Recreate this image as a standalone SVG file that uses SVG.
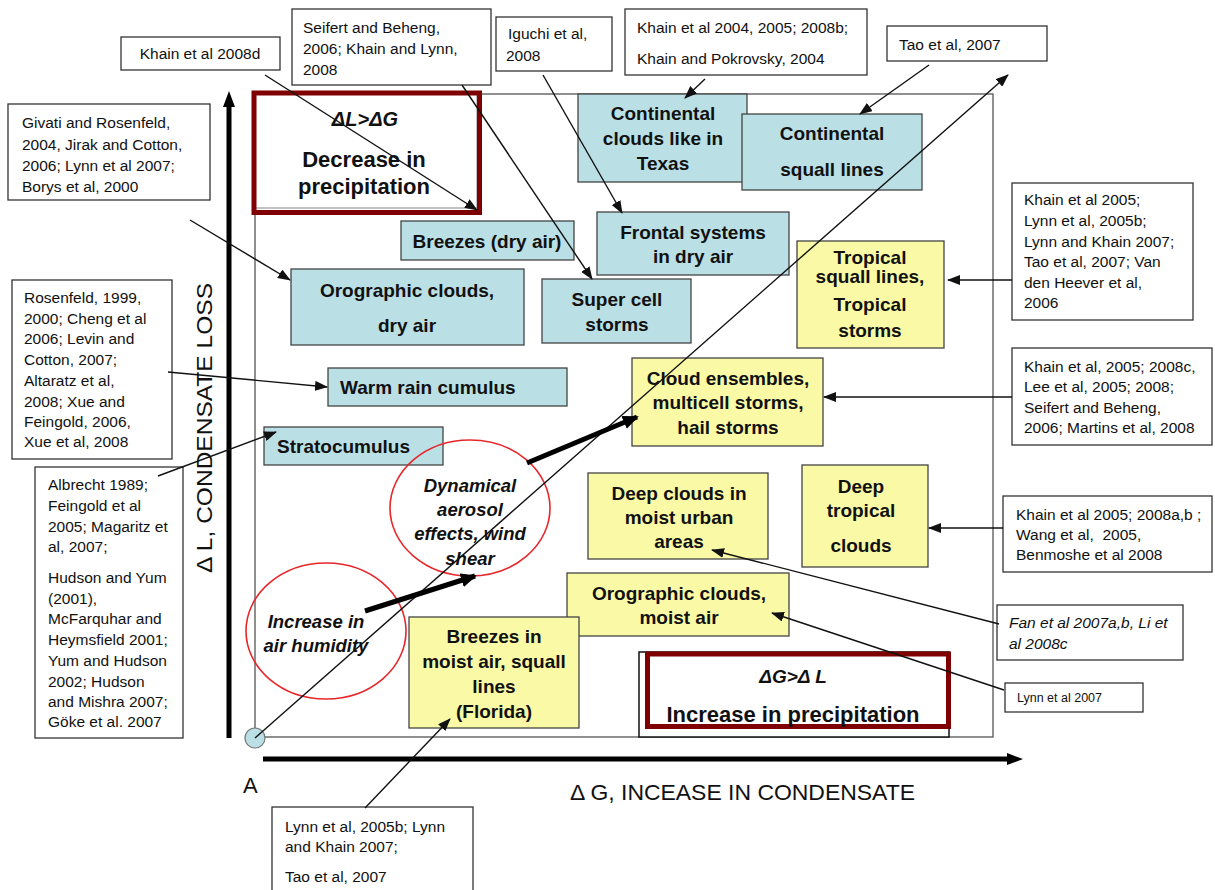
<svg xmlns="http://www.w3.org/2000/svg" width="1215" height="890" viewBox="0 0 1215 890">
<defs>
<style>
.ref rect{fill:#fff;stroke:#333;stroke-width:1.3}
.ref text{font-family:"Liberation Sans",Arial,sans-serif;font-size:15.5px;fill:#111}
.blue rect{fill:#badfe4;stroke:#444;stroke-width:1.3}
.yel rect{fill:#fafaa6;stroke:#444;stroke-width:1.3}
.nt{font-family:"Liberation Sans",Arial,sans-serif;font-size:19px;font-weight:bold;fill:#111;text-anchor:middle}
.ell ellipse{fill:none;stroke:#e8262a;stroke-width:1.6}
.et{font-family:"Liberation Sans",Arial,sans-serif;font-size:18.5px;font-weight:bold;font-style:italic;fill:#111;text-anchor:middle}
.ax{font-family:"Liberation Sans",Arial,sans-serif;font-size:22px;fill:#111}
.con{stroke:#111;stroke-width:1.4;fill:none;marker-end:url(#ah)}
.thick{stroke:#000;stroke-width:5;fill:none;marker-end:url(#ahb)}
.red{fill:none;stroke:#7f0000;stroke-width:5}
</style>
<marker id="ah" markerUnits="userSpaceOnUse" markerWidth="14" markerHeight="10" refX="12" refY="5" orient="auto"><path d="M0,0 L13,5 L0,10 Z" fill="#111"/></marker>
<marker id="ahb" markerUnits="userSpaceOnUse" markerWidth="16" markerHeight="14" refX="14" refY="7" orient="auto"><path d="M0,0 L16,7 L0,14 Z" fill="#000"/></marker>
</defs>
<rect width="1215" height="890" fill="#fff"/>

<!-- main frame and axes -->
<g id="frame">
<rect x="255" y="94" width="738" height="643" fill="#fff" stroke="#555" stroke-width="1.3"/>
<line x1="229" y1="738" x2="229" y2="106" stroke="#000" stroke-width="5"/>
<path d="M229,91 L223,107 L235,107 Z" fill="#000"/>
<line x1="263" y1="759" x2="1008" y2="759" stroke="#000" stroke-width="5"/>
<path d="M1023,759 L1007,753 L1007,765 Z" fill="#000"/>
<text class="ax" x="243" y="793">A</text>
<text class="ax" x="570" y="800" textLength="345" lengthAdjust="spacingAndGlyphs">Δ G, INCEASE IN CONDENSATE</text>
<text class="ax" transform="translate(212,428) rotate(-90)" text-anchor="middle" textLength="290" lengthAdjust="spacingAndGlyphs">Δ L, CONDENSATE LOSS</text>
</g>

<!-- regime boxes -->
<g id="decrease">
<rect x="254" y="93" width="223" height="115" fill="#fff" stroke="#999" stroke-width="1.2"/>
<rect class="red" x="254" y="93" width="225.5" height="119.5"/>
<text class="et" x="365" y="126" style="font-size:20px">ΔL&gt;ΔG</text>
<text class="nt" x="364" y="167" style="font-size:22px">Decrease in</text>
<text class="nt" x="364" y="194" style="font-size:22px">precipitation</text>
</g>
<g id="increase">
<rect x="639" y="652" width="310" height="85" fill="#fff" stroke="#111" stroke-width="1.5"/>
<rect class="red" x="647.5" y="654" width="301" height="72.5"/>
<text class="et" x="793" y="683" style="font-size:19px">ΔG&gt;Δ L</text>
<text class="nt" x="793" y="722" style="font-size:22px">Increase in precipitation</text>
</g>

<!-- blue nodes -->
<g id="cont-texas" class="blue"><rect x="578" y="94" width="169" height="88"/>
<text class="nt" x="663" y="120">Continental</text><text class="nt" x="663" y="145">clouds like in</text><text class="nt" x="663" y="170">Texas</text></g>
<g id="cont-squall" class="blue"><rect x="742" y="114" width="180" height="76"/>
<text class="nt" x="832" y="140">Continental</text><text class="nt" x="832" y="176">squall lines</text></g>
<g id="breezes-dry" class="blue"><rect x="401" y="221" width="173" height="39"/>
<text class="nt" x="487" y="248">Breezes (dry air)</text></g>
<g id="frontal" class="blue"><rect x="597" y="212" width="192" height="63"/>
<text class="nt" x="693" y="239">Frontal systems</text><text class="nt" x="693" y="263">in dry air</text></g>
<g id="orog-dry" class="blue"><rect x="291" y="269" width="233" height="76"/>
<text class="nt" x="407" y="297">Orographic clouds,</text><text class="nt" x="407" y="332">dry air</text></g>
<g id="supercell" class="blue"><rect x="542" y="279" width="149" height="64"/>
<text class="nt" x="617" y="306">Super cell</text><text class="nt" x="617" y="331">storms</text></g>
<g id="warm-rain" class="blue"><rect x="328" y="368" width="239" height="38"/>
<text class="nt" x="340" y="394" text-anchor="start" style="text-anchor:start">Warm rain cumulus</text></g>
<g id="strato" class="blue"><rect x="264" y="427" width="179" height="38"/>
<text class="nt" x="277" y="453" style="text-anchor:start">Stratocumulus</text></g>

<!-- yellow nodes -->
<g id="trop-squall" class="yel"><rect x="797" y="241" width="147" height="107"/>
<text class="nt" x="870" y="264">Tropical</text><text class="nt" x="870" y="283">squall lines,</text><text class="nt" x="870" y="311">Tropical</text><text class="nt" x="870" y="337">storms</text></g>
<g id="cloud-ens" class="yel"><rect x="632" y="358" width="191" height="88"/>
<text class="nt" x="728" y="385">Cloud ensembles,</text><text class="nt" x="728" y="409">multicell storms,</text><text class="nt" x="728" y="434">hail storms</text></g>
<g id="deep-trop" class="yel"><rect x="802" y="465" width="126" height="102"/>
<text class="nt" x="861" y="493">Deep</text><text class="nt" x="861" y="517">tropical</text><text class="nt" x="861" y="552">clouds</text></g>
<g id="deep-urban" class="yel"><rect x="588" y="473" width="180" height="86"/>
<text class="nt" x="679" y="500">Deep clouds in</text><text class="nt" x="679" y="524">moist urban</text><text class="nt" x="679" y="548">areas</text></g>
<g id="orog-moist" class="yel"><rect x="567" y="573" width="222" height="63"/>
<text class="nt" x="679" y="600">Orographic clouds,</text><text class="nt" x="679" y="624">moist air</text></g>
<g id="breezes-moist" class="yel"><rect x="409" y="617" width="170" height="111"/>
<text class="nt" x="494" y="643">Breezes in</text><text class="nt" x="494" y="668">moist air, squall</text><text class="nt" x="494" y="693">lines</text><text class="nt" x="494" y="718">(Florida)</text></g>

<!-- ellipses -->
<g id="dynamical" class="ell"><ellipse cx="470" cy="508" rx="80" ry="68"/>
<text class="et" x="470" y="492">Dynamical</text><text class="et" x="470" y="516">aerosol</text><text class="et" x="470" y="540">effects, wind</text><text class="et" x="470" y="565">shear</text></g>
<g id="humidity" class="ell"><ellipse cx="326" cy="631" rx="80" ry="68"/>
<text class="et" x="316" y="628">Increase in</text><text class="et" x="316" y="652">air humidity</text></g>
<g id="origin"><circle cx="255" cy="738" r="10" fill="#badfe4" stroke="#777" stroke-width="1.2"/></g>

<!-- reference boxes -->
<g id="ref-khain2008d" class="ref"><rect x="121" y="37" width="159" height="33"/><text x="200" y="59" text-anchor="middle">Khain et al 2008d</text></g>
<g id="ref-seifert" class="ref"><rect x="292" y="9" width="199" height="76"/>
<text x="303" y="33">Seifert and Beheng,</text><text x="303" y="54">2006; Khain and Lynn,</text><text x="303" y="75">2008</text></g>
<g id="ref-iguchi" class="ref"><rect x="496" y="17" width="116" height="54"/>
<text x="508" y="39">Iguchi et al,</text><text x="506" y="61">2008</text></g>
<g id="ref-khain2004" class="ref"><rect x="625" y="9" width="242" height="66"/>
<text x="637" y="33">Khain et al 2004, 2005; 2008b;</text><text x="637" y="64">Khain and Pokrovsky, 2004</text></g>
<g id="ref-tao" class="ref"><rect x="887" y="26" width="160" height="35"/><text x="899" y="50">Tao et al, 2007</text></g>
<g id="ref-givati" class="ref"><rect x="8" y="104" width="202" height="96"/>
<text x="22" y="128">Givati and Rosenfeld,</text><text x="22" y="150">2004, Jirak and Cotton,</text><text x="22" y="171">2006; Lynn et al 2007;</text><text x="22" y="192">Borys et al, 2000</text></g>
<g id="ref-rosenfeld" class="ref"><rect x="12" y="280" width="160" height="179"/>
<text x="24" y="303">Rosenfeld, 1999,</text><text x="24" y="324">2000; Cheng et al</text><text x="24" y="344">2006;  Levin and</text><text x="24" y="365">Cotton, 2007;</text><text x="24" y="386">Altaratz et al,</text><text x="24" y="407">2008; Xue and</text><text x="24" y="427">Feingold, 2006,</text><text x="24" y="447">Xue et al, 2008</text></g>
<g id="ref-albrecht" class="ref"><rect x="35" y="467" width="148" height="271"/>
<text x="48" y="490">Albrecht 1989;</text><text x="48" y="511">Feingold et al</text><text x="48" y="532">2005; Magaritz et</text><text x="48" y="552">al, 2007;</text>
<text x="48" y="583">Hudson and Yum</text><text x="48" y="604">(2001),</text><text x="48" y="624">McFarquhar and</text><text x="48" y="645">Heymsfield 2001;</text><text x="48" y="666">Yum and Hudson</text><text x="48" y="687">2002; Hudson</text><text x="48" y="707">and Mishra 2007;</text><text x="48" y="727">Göke et al. 2007</text></g>
<g id="ref-khain2005a" class="ref"><rect x="1012" y="183" width="181" height="137"/>
<text x="1024" y="205">Khain et al 2005;</text><text x="1024" y="226">Lynn et al, 2005b;</text><text x="1024" y="247">Lynn and Khain 2007;</text><text x="1024" y="267">Tao et al, 2007; Van</text><text x="1024" y="288">den Heever et al,</text><text x="1024" y="308">2006</text></g>
<g id="ref-khain2005b" class="ref"><rect x="1012" y="348" width="200" height="97"/>
<text x="1024" y="372">Khain et al, 2005; 2008c,</text><text x="1024" y="392">Lee et al, 2005; 2008;</text><text x="1024" y="413">Seifert and Beheng,</text><text x="1024" y="433">2006; Martins et al, 2008</text></g>
<g id="ref-khain2005c" class="ref"><rect x="1003" y="496" width="209" height="76"/>
<text x="1016" y="520">Khain et al 2005; 2008a,b ;</text><text x="1016" y="540" xml:space="preserve">Wang et al,  2005,</text><text x="1016" y="560">Benmoshe et al 2008</text></g>
<g id="ref-fan" class="ref"><rect x="997" y="605" width="186" height="55"/>
<text x="1009" y="628" font-style="italic">Fan et al 2007a,b, Li et</text><text x="1009" y="649" font-style="italic">al 2008c</text></g>
<g id="ref-lynn2007" class="ref"><rect x="1005" y="683" width="138" height="29"/>
<text x="1017" y="702" style="font-size:12.5px">Lynn et al 2007</text></g>
<g id="ref-lynn2005b" class="ref"><rect x="272" y="807" width="201" height="90"/>
<text x="285" y="832">Lynn et al, 2005b; Lynn</text><text x="285" y="852">and Khain 2007;</text><text x="285" y="882">Tao et al, 2007</text></g>

<!-- connectors -->
<g id="connectors">
<line class="con" x1="255" y1="738" x2="1008" y2="75"/>
<line class="thick" x1="365" y1="611" x2="475" y2="576"/>
<line class="thick" x1="527" y1="463" x2="637" y2="417"/>
<line class="con" x1="265" y1="75" x2="477" y2="210"/>
<line class="con" x1="462" y1="85" x2="592" y2="279"/>
<line class="con" x1="543" y1="75" x2="622" y2="213"/>
<line class="con" x1="705" y1="79" x2="685" y2="98"/>
<line class="con" x1="929" y1="65" x2="860" y2="114"/>
<line class="con" x1="190" y1="220" x2="290" y2="280"/>
<line class="con" x1="168" y1="372" x2="327" y2="387"/>
<line class="con" x1="158" y1="476" x2="276" y2="432"/>
<line class="con" x1="1012" y1="280" x2="948" y2="280"/>
<line class="con" x1="1012" y1="397" x2="824" y2="397"/>
<line class="con" x1="1003" y1="528" x2="929" y2="528"/>
<line class="con" x1="999" y1="624" x2="712" y2="550"/>
<line class="con" x1="1004" y1="690" x2="772" y2="613"/>
<line class="con" x1="365" y1="808" x2="450" y2="719"/>
</g>
</svg>
